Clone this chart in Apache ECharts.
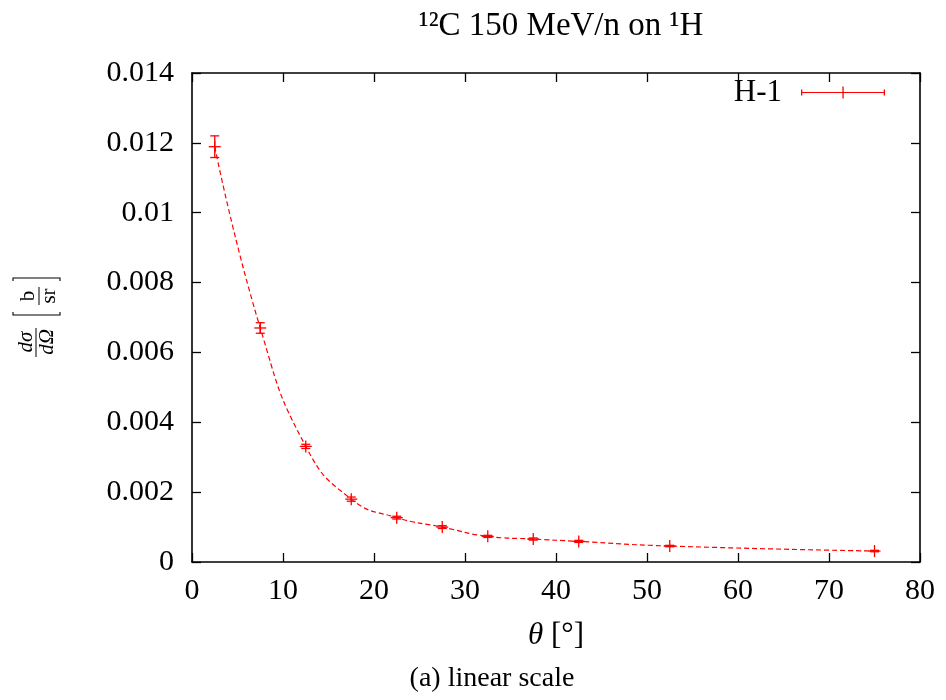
<!DOCTYPE html>
<html>
<head>
<meta charset="utf-8">
<script src="https://cdn.jsdelivr.net/npm/echarts@6/dist/echarts.min.js"></script>
<style>html,body{margin:0;padding:0;background:#fff;}#c{width:946px;height:700px;}</style>
</head>
<body>
<div id="c"></div>
<script>
// Data
var theta = [2.5, 7.5, 12.5, 17.5, 22.5, 27.5, 32.5, 37.5, 42.5, 52.5, 75];
var dsigma = [0.01189, 0.00670, 0.00331, 0.00180, 0.00127, 0.00100, 0.000734, 0.000657, 0.00059, 0.000457, 0.000314];
var dsigmaErr = [0.00031, 0.00015, 0.00006, 0.00006, 0.00004, 0.00004, 0.00003, 0.00003, 0.00003, 0.00002, 0.00002];
var yTickLabels = ['0', '0.002', '0.004', '0.006', '0.008', '0.01', '0.012', '0.014'];
var xTickLabels = ['0', '10', '20', '30', '40', '50', '60', '70', '80'];
var seriesName = 'H-1';
var titleText = '¹²C 150 MeV/n on ¹H';
var captionText = '(a) linear scale';

var FONT = '"Liberation Serif", "Times New Roman", serif';
var RED = '#ff0000';

var lineData = theta.map(function (t, i) { return [t, dsigma[i]]; });
var errData = theta.map(function (t, i) { return [t, dsigma[i], dsigmaErr[i]]; });

var chart = echarts.init(document.getElementById('c'), null, { renderer: 'canvas' });

function axisLine() { return { show: true, onZero: false, lineStyle: { color: '#000', width: 1.6 } }; }
function axisTick() { return { show: true, inside: true, length: 9, lineStyle: { color: '#000', width: 1.3 } }; }

var txt = function (text, x, y, font) {
  return { type: 'text', x: x, y: y, style: { text: text, font: font, fill: '#000', align: 'center', verticalAlign: 'middle' } };
};

var option = {
  animation: false,
  backgroundColor: '#fff',
  title: {
    text: titleText,
    left: 556,
    top: 5,
    textAlign: 'center',
    textStyle: { fontFamily: FONT, fontSize: 33, fontWeight: 'normal', color: '#000' }
  },
  legend: {
    data: [{ name: seriesName, icon: 'path://M0,5.4h84v1.2H0z M0,3h1.3v6H0z M82.7,3h1.3v6h-1.3z M41.4,0h1.3v12h-1.3z' }],
    right: 56,
    top: 72,
    align: 'right',
    itemWidth: 84,
    itemHeight: 12,
    textStyle: { fontFamily: FONT, fontSize: 31, color: '#000', padding: [0, 14, 0, 0] }
  },
  grid: { left: 192, right: 26, top: 73, bottom: 138 },
  xAxis: [
    {
      type: 'value', min: 0, max: 80, interval: 10, position: 'bottom',
      axisLine: axisLine(), axisTick: axisTick(), splitLine: { show: false },
      axisLabel: {
        margin: 14, fontFamily: FONT, fontSize: 30, color: '#000',
        formatter: function (v) { return xTickLabels[Math.round(v / 10)]; }
      },
      name: '{i|θ} [°]',
      nameLocation: 'middle',
      nameGap: 58,
      nameTextStyle: {
        fontFamily: FONT, fontSize: 31, color: '#000',
        rich: { i: { fontFamily: FONT, fontSize: 31, fontStyle: 'italic', color: '#000' } }
      }
    },
    {
      type: 'value', min: 0, max: 80, interval: 10, position: 'top',
      axisLine: axisLine(), axisTick: axisTick(), splitLine: { show: false },
      axisLabel: { show: false }
    }
  ],
  yAxis: [
    {
      type: 'value', min: 0, max: 0.014, interval: 0.002, position: 'left',
      axisLine: axisLine(), axisTick: axisTick(), splitLine: { show: false },
      axisLabel: {
        margin: 18, fontFamily: FONT, fontSize: 30, color: '#000',
        formatter: function (v) { return yTickLabels[Math.round(v / 0.002)]; }
      }
    },
    {
      type: 'value', min: 0, max: 0.014, interval: 0.002, position: 'right',
      axisLine: axisLine(), axisTick: axisTick(), splitLine: { show: false },
      axisLabel: { show: false }
    }
  ],
  graphic: [
    {
      type: 'group', x: 37, y: 320, rotation: Math.PI / 2,
      children: [
        txt('dσ', -22, -11, 'italic 21px ' + FONT),
        { type: 'line', shape: { x1: -37, y1: -1, x2: -8, y2: -1 }, style: { stroke: '#000', lineWidth: 1 } },
        txt('dΩ', -22, 10, 'italic 21px ' + FONT),
        { type: 'polyline', shape: { points: [[8, -24], [5, -24], [5, 23], [8, 23]] }, style: { stroke: '#000', lineWidth: 1.1, fill: null } },
        txt('b', 24, -9, '21px ' + FONT),
        { type: 'line', shape: { x1: 15, y1: 2, x2: 33, y2: 2 }, style: { stroke: '#000', lineWidth: 1 } },
        txt('sr', 24, 12, '21px ' + FONT),
        { type: 'polyline', shape: { points: [[39, -24], [42, -24], [42, 23], [39, 23]] }, style: { stroke: '#000', lineWidth: 1.1, fill: null } }
      ]
    },
    {
      type: 'text', x: 492, y: 679,
      style: { text: captionText, font: '28px ' + FONT, fill: '#000', align: 'center', verticalAlign: 'middle' }
    }
  ],
  series: [
    {
      name: 'curve',
      type: 'line',
      data: lineData,
      smooth: 0.5,
      showSymbol: false,
      symbol: 'none',
      silent: true,
      lineStyle: { color: RED, width: 1.2, type: [5, 3] },
      z: 2
    },
    {
      name: seriesName,
      type: 'custom',
      data: errData,
      itemStyle: { color: RED },
      z: 3,
      renderItem: function (params, api) {
        var x = api.value(0), y = api.value(1), e = api.value(2);
        var c = api.coord([x, y]);
        var hi = api.coord([x, y + e]);
        var lo = api.coord([x, y - e]);
        var st = { stroke: RED, lineWidth: 1.3, fill: null };
        return {
          type: 'group',
          children: [
            { type: 'line', shape: { x1: c[0], y1: hi[1], x2: c[0], y2: lo[1] }, style: st },
            { type: 'line', shape: { x1: c[0] - 4.5, y1: hi[1], x2: c[0] + 4.5, y2: hi[1] }, style: st },
            { type: 'line', shape: { x1: c[0] - 4.5, y1: lo[1], x2: c[0] + 4.5, y2: lo[1] }, style: st },
            { type: 'line', shape: { x1: c[0] - 6, y1: c[1], x2: c[0] + 6, y2: c[1] }, style: st },
            { type: 'line', shape: { x1: c[0], y1: c[1] - 6, x2: c[0], y2: c[1] + 6 }, style: st }
          ]
        };
      }
    }
  ]
};
chart.setOption(option);
</script>
</body>
</html>
